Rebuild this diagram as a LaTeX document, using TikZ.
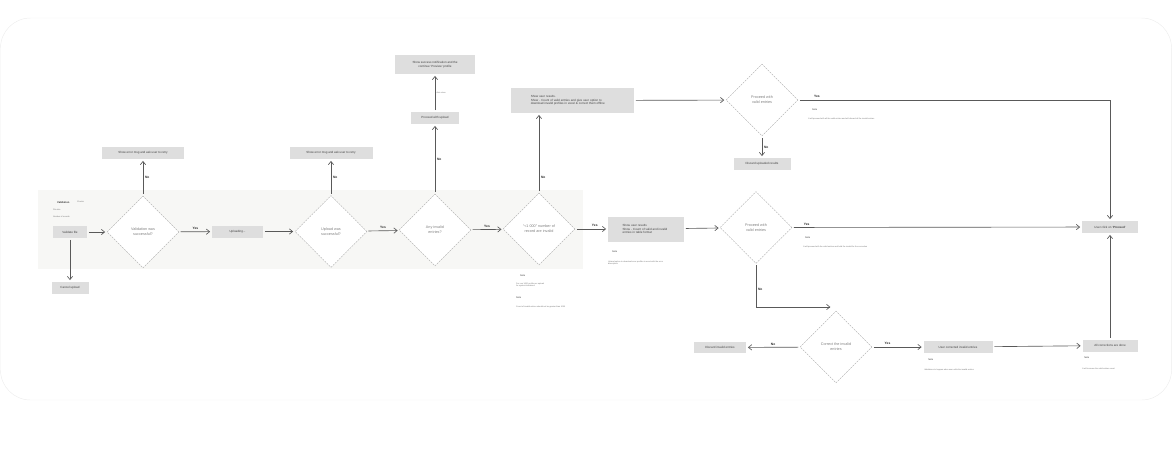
\documentclass[tikz,border=0pt]{standalone}
\usepackage{fontspec}
\setmainfont{Liberation Sans}
\usetikzlibrary{positioning,shapes.geometric,arrows.meta}
\definecolor{boxgrey}{HTML}{DEDEDE}
\definecolor{bandgrey}{HTML}{F7F7F5}

\begin{document}
\begin{tikzpicture}[x=0.3mm,y=-0.3mm]
\tikzstyle{box}=[rectangle, fill=boxgrey, minimum height=3.6mm, inner sep=0.5pt, text=black!75, font=\fontsize{2.55}{3.1}\selectfont]
\tikzstyle{decision}=[diamond, aspect=1, draw=black!35, dashed, dash pattern=on 1.6pt off 0.9pt, line width=0.35pt, fill=white, minimum size=21.6mm, inner sep=0pt, align=center, text=black!50, font=\fontsize{3.2}{4.3}\selectfont]
\tikzstyle{connect}=[-{Straight Barb[length=1mm,width=1.6mm]}, line width=0.55pt, draw=black!65, shorten >=0.5mm, shorten <=0.5mm]
\tikzstyle{answer}=[font=\bfseries\fontsize{2.8}{3}\selectfont, text=black!85, inner sep=1.5pt]
\tikzstyle{note}=[anchor=west, inner sep=0pt, text=black!55, font=\fontsize{1.7}{2.1}\selectfont]
\tikzstyle{notehead}=[anchor=west, inner sep=0pt, text=black!80, font=\fontsize{2}{2.4}\selectfont]
\useasboundingbox (0,0) rectangle (1172,452);
  % frame and validation band
  \draw[black!7, line width=0.4pt, rounded corners=9mm] (0.5,18) rectangle (1171.5,400);
  \fill[bandgrey] (38,190) rectangle (583,269);
  \node[notehead, font=\bfseries\fontsize{2.2}{2.4}\selectfont] (valtitle) at (57,203) {Validation};
  \node[note] (valsub) at (77,202) {Checks};
  \node[note] (valsize) at (53,210) {File size};
  \node[note] (valcount) at (53,217) {Number of records};

  % main row
  \node[box, minimum width=10.2mm] (validate) at (70,232) {Validate file};
  \node[box, minimum width=11.1mm] (cancel) at (70,288) {Cancel upload};
  \node[decision] (valid) at (143,232) {Validation was\\successful?};
  \node[box, minimum width=24.6mm] (err1) at (143,153) {Show error msg and ask user to retry};
  \node[box, minimum width=15.3mm] (uploading) at (237.5,231.5) {Uploading...};
  \node[decision] (upok) at (331,231.5) {Upload was\\successful?};
  \node[box, minimum width=24.9mm] (err2) at (331,153) {Show error msg and ask user to retry};
  \node[decision] (invalid) at (435,230) {Any invalid\\entries?};
  \node[box, minimum width=14.4mm] (proceedup) at (435,118) {Proceed with upload};
  \node[box, minimum width=24mm, minimum height=5.7mm, align=center] (success) at (435,64.5) {Show success notification and the\\continue ‘Preview’ profile};
  \node[decision] (limit) at (539,229) {“<1 000” number of\\record are invalid};
  \node[box, minimum width=36.9mm, minimum height=7.5mm, align=left, text width=25mm] (resultsdl) at (572.5,100.5) {Show user results.\\Show - Count of valid entries and give user option to\\download invalid profiles in excel \& correct them offline};
  \node[box, minimum width=22.8mm, minimum height=7.5mm, align=left, text width=14mm] (results) at (646,229) {Show user results\\Show - Count of valid and invalid\\entries in table format};

  % right part
  \node[decision] (proceedtop) at (762,100) {Proceed with\\valid entries};
  \node[box, minimum width=17.1mm] (discardup) at (762,164) {Discard uploaded results};
  \node[decision] (proceedmid) at (756,227.5) {Proceed with\\valid entries};
  \node[box, minimum width=16.8mm] (userproceed) at (1110,227) {User click on ‘\textbf{Proceed}’};
  \node[decision] (correct) at (836,347) {Correct the invalid\\entries};
  \node[box, minimum width=15.6mm, minimum height=3.3mm] (discardinv) at (720,347.5) {Discard invalid entries};
  \node[box, minimum width=20.7mm] (corrected) at (958,347) {User corrected invalid entries};
  \node[box, minimum width=16.5mm] (alldone) at (1110,345.5) {All corrections are done};
  \coordinate (correctin) at (832,307);

  % notes
  \node[notehead] (n1) at (520,276) {Note};
  \node[note, align=left] (n1t) at (516,285) {Per row 1000 profile per upload\\for system limitations};
  \node[notehead] (n2) at (516,298) {Note};
  \node[note] (n2t) at (516,307) {Count of invalid entries should not be greater than 1000};
  \node[notehead] (n3) at (612,252) {Note};
  \node[note, align=left] (n3t) at (608,263) {Upload option to download error profiles in excel with the error\\description};
  \node[notehead] (n4) at (812,110) {Note};
  \node[note] (n4t) at (808,119) {It will proceed with all the valid entries and will discard all the invalid entries};
  \node[notehead] (n5) at (805,238) {Note};
  \node[note] (n5t) at (803,247) {It will proceed with the valid entries and hold the invalid for the correction};
  \node[notehead] (n6) at (928,360) {Note};
  \node[note] (n6t) at (924,370) {Validations to happen when user edits the invalid entries};
  \node[notehead] (n7) at (1084,358) {Note};
  \node[note] (n7t) at (1082,369) {It will increase the valid entries count};

  \path
        (validate) edge [connect] (valid)
        (validate) edge [connect] (cancel)
        (valid) edge [connect] node[answer, right] {No} (err1)
        (valid) edge [connect] node[answer, above] {Yes} (uploading)
        (uploading) edge [connect] (upok)
        (upok) edge [connect] node[answer, right] {No} (err2)
        (upok) edge [connect] node[answer, above] {Yes} (invalid)
        (invalid) edge [connect] node[answer, right] {No} (proceedup)
        (proceedup) edge [connect] node[note, right=1pt] {Auto close} (success)
        (invalid) edge [connect] node[answer, above] {Yes} (limit)
        (limit) edge [connect] node[answer, pos=0.6, above] {Yes} (results)
        (results) edge [connect] (proceedmid)
        (resultsdl) edge [connect] (proceedtop)
        (proceedtop) edge [connect] node[answer, right] {No} (discardup)
        (correct) edge [connect] node[answer, above] {No} (discardinv)
        (correct) edge [connect] node[answer, pos=0.3, above] {Yes} (corrected)
        (corrected) edge [connect] (alldone)
        (alldone) edge [connect] (userproceed)
        (proceedmid) edge [connect] node[answer, pos=0.05, above] {Yes} (userproceed);
  \draw[connect] (limit.north) -- node[answer, pos=0.2, right] {No} (limit.north |- resultsdl.south);
  \draw[connect] (proceedtop.east) -| node[answer, pos=0.03, above] {Yes} (userproceed.north);
  \draw[connect] (proceedmid.south) |- node[answer, pos=0.3, right] {No} (correctin);
\end{tikzpicture}
\end{document}
